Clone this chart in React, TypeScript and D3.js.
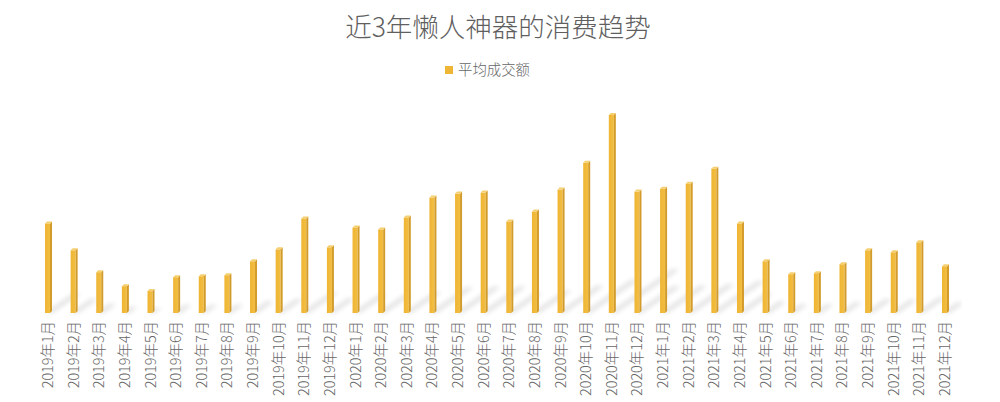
import React from "react";
import * as d3 from "d3";

const categories: string[] = [
  "2019年1月", "2019年2月", "2019年3月", "2019年4月", "2019年5月", "2019年6月",
  "2019年7月", "2019年8月", "2019年9月", "2019年10月", "2019年11月", "2019年12月",
  "2020年1月", "2020年2月", "2020年3月", "2020年4月", "2020年5月", "2020年6月",
  "2020年7月", "2020年8月", "2020年9月", "2020年10月", "2020年11月", "2020年12月",
  "2021年1月", "2021年2月", "2021年3月", "2021年4月", "2021年5月", "2021年6月",
  "2021年7月", "2021年8月", "2021年9月", "2021年10月", "2021年11月", "2021年12月",
];

const values: number[] = [
  90, 63, 41, 27, 22, 36, 37, 38, 52, 64, 95, 66,
  86, 84, 96, 116, 120, 121, 92, 102, 124, 151, 199, 122,
  125, 130, 145, 90, 52, 39, 40, 49, 63, 61, 71, 47,
];

const seriesName = "平均成交额";
const title = "近3年懒人神器的消费趋势";

const W = 1000;
const H = 402;
const FONT = "'Noto Sans CJK SC', 'Noto Sans', sans-serif";

export default function App() {
  const x = d3.scalePoint<string>().domain(categories).range([48, 945]);
  const y = d3.scaleLinear().domain([0, 200]).range([313, 114]);
  const base = y(0);
  const bw = 5;
  const dep = 2;

  return (
    <svg
      width={W}
      height={H}
      style={{ position: "absolute", left: 0, top: 0, background: "#fff" }}
      fontFamily={FONT}
    >
      <defs>
        <filter id="blur" x="-50%" y="-50%" width="200%" height="200%">
          <feGaussianBlur stdDeviation="2.5" />
        </filter>
        <clipPath id="plotclip">
          <rect x={0} y={90} width={962} height={230} />
        </clipPath>
        <linearGradient id="front" x1="0" x2="1" y1="0" y2="0">
          <stop offset="0" stopColor="#EFB534" />
          <stop offset="1" stopColor="#F2BE42" />
        </linearGradient>
      </defs>

      <text
        x={W / 2 - 2}
        y={37}
        textAnchor="middle"
        fontSize={26.5}
        fontWeight={300}
        fill="#5f5f5f"
      >
        {title}
      </text>

      <g>
        <rect x={445} y={66} width={8} height={8} fill="#EFB534" />
        <text x={458} y={75} fontSize={14.4} fontWeight={300} fill="#666">
          {seriesName}
        </text>
      </g>

      <g clipPath="url(#plotclip)">
        {categories.map((c, i) => {
          const cx = x(c) as number;
          const h = base - y(values[i]);
          const sx = h * 0.32;
          const sy = h * 0.22;
          const x0 = cx - 3;
          const pts = [
            [x0, base],
            [x0 + bw + dep, base],
            [x0 + bw + dep + sx, base - sy],
            [x0 + sx, base - sy],
          ]
            .map((p) => p.join(","))
            .join(" ");
          return (
            <polygon
              key={"s" + c}
              points={pts}
              fill="#000"
              opacity={0.13}
              filter="url(#blur)"
            />
          );
        })}
      </g>

      <g>
        {categories.map((c, i) => {
          const cx = x(c) as number;
          const top = y(values[i]);
          const x0 = cx - 3;
          const x1 = x0 + bw;
          return (
            <g key={"b" + c}>
              <rect x={x0} y={top} width={bw} height={base - top} fill="url(#front)" />
              <polygon
                points={`${x1},${top} ${x1 + dep},${top - dep} ${x1 + dep},${base - dep} ${x1},${base}`}
                fill="#D39C2A"
              />
              <polygon
                points={`${x0},${top} ${x0 + dep},${top - dep} ${x1 + dep},${top - dep} ${x1},${top}`}
                fill="#F6CF70"
              />
            </g>
          );
        })}
      </g>

      <g>
        {categories.map((c) => {
          const cx = x(c) as number;
          return (
            <text
              key={"l" + c}
              transform={`translate(${cx + 5},${321}) rotate(-90)`}
              textAnchor="end"
              fontSize={14.4}
              fontWeight={300}
              fill="#666"
            >
              {c}
            </text>
          );
        })}
      </g>
    </svg>
  );
}
